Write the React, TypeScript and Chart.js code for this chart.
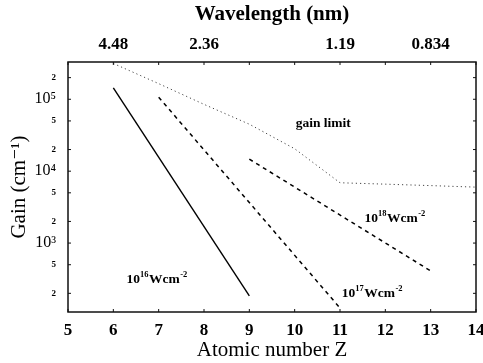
import React, { useEffect, useRef } from 'react';
import { Chart, registerables } from 'chart.js';

Chart.register(...registerables);

// ---- data ----
const z16 = [6, 9];
const gain16 = [1.44e5, 185];
const z17 = [7, 11];
const gain17 = [1.07e5, 125];
const z18 = [9, 13];
const gain18 = [1.47e4, 410];
const zLimit = [6, 7, 8, 9, 10, 11, 12, 13, 14];
const gainLimit = [3.15e5, 1.65e5, 8.5e4, 4.5e4, 2.05e4, 6.9e3, 6.6e3, 6.3e3, 6.0e3];

const xTicks = [5, 6, 7, 8, 9, 10, 11, 12, 13, 14];
const topTickZ = [6, 8, 11, 13];
const topTickLabels = ['4.48', '2.36', '1.19', '0.834'];
const yTicks = [200, 500, 1000, 2000, 5000, 10000, 20000, 50000, 100000, 200000];
const yMajor = [1000, 10000, 100000];
const supDigits: Record<number, string> = { 3: '\u00B3', 4: '\u2074', 5: '\u2075' };

// annotation anchors in data coordinates
const noteZ = [10.63, 12.21, 11.71, 6.96];
const noteGain = [4.7e4, 2.3e3, 210, 325];
const noteBase = ['gain limit', '10', '10', '10'];
const noteExp = ['', '18', '17', '16'];

const SERIF = '"Liberation Serif", "DejaVu Serif", serif';

const pts = (xs: number[], ys: number[]) => xs.map((x, i) => ({ x, y: ys[i] }));

const framePlugin = {
  id: 'frameAndNotes',
  afterDraw(chart: any) {
    const { ctx, chartArea: a, scales } = chart;
    const xs = scales.x;
    const ys = scales.y;
    ctx.save();
    ctx.strokeStyle = '#111';
    ctx.lineWidth = 1.5;
    ctx.strokeRect(a.left, a.top, a.right - a.left, a.bottom - a.top);
    ctx.lineWidth = 1;
    const tl = 3;
    xTicks.forEach((v) => {
      const px = xs.getPixelForValue(v);
      ctx.beginPath();
      ctx.moveTo(px, a.bottom);
      ctx.lineTo(px, a.bottom - tl);
      ctx.moveTo(px, a.top);
      ctx.lineTo(px, a.top + tl);
      ctx.stroke();
    });
    yTicks.forEach((v) => {
      const py = ys.getPixelForValue(v);
      ctx.beginPath();
      ctx.moveTo(a.left, py);
      ctx.lineTo(a.left + tl, py);
      ctx.moveTo(a.right, py);
      ctx.lineTo(a.right - tl, py);
      ctx.stroke();
    });

    // annotations
    ctx.fillStyle = '#000';
    ctx.textBaseline = 'alphabetic';
    noteBase.forEach((base, i) => {
      const cx = xs.getPixelForValue(noteZ[i]);
      const cy = ys.getPixelForValue(noteGain[i]);
      if (!noteExp[i]) {
        ctx.font = `bold 13.5px ${SERIF}`;
        ctx.textAlign = 'center';
        ctx.fillText(base, cx, cy + 4);
        return;
      }
      const bigF = `bold 13.5px ${SERIF}`;
      const smallF = `bold 8.5px ${SERIF}`;
      ctx.font = bigF;
      const w1 = ctx.measureText(base).width;
      const w3 = ctx.measureText('Wcm').width;
      ctx.font = smallF;
      const w2 = ctx.measureText(noteExp[i]).width;
      const w4 = ctx.measureText('-2').width;
      const total = w1 + w2 + w3 + w4 + 1;
      let x = cx - total / 2;
      const base_y = cy + 5;
      ctx.textAlign = 'left';
      ctx.font = bigF;
      ctx.fillText(base, x, base_y);
      x += w1;
      ctx.font = smallF;
      ctx.fillText(noteExp[i], x, base_y - 6);
      x += w2 + 0.5;
      ctx.font = bigF;
      ctx.fillText('Wcm', x, base_y);
      x += w3 + 0.5;
      ctx.font = smallF;
      ctx.fillText('-2', x, base_y - 6);
    });
    ctx.restore();
  },
};

export default function App() {
  const ref = useRef<HTMLCanvasElement>(null);
  useEffect(() => {
    document.body.style.margin = '0';
    const canvas = ref.current!;
    const chart = new Chart(canvas, {
      type: 'line',
      data: {
        datasets: [
          {
            label: '1e16',
            data: pts(z16, gain16),
            borderColor: '#000',
            borderWidth: 1.4,
            pointRadius: 0,
          },
          {
            label: '1e17',
            data: pts(z17, gain17),
            borderColor: '#000',
            borderWidth: 1.5,
            borderDash: [4, 4],
            pointRadius: 0,
          },
          {
            label: '1e18',
            data: pts(z18, gain18),
            borderColor: '#000',
            borderWidth: 1.5,
            borderDash: [4, 4],
            pointRadius: 0,
          },
          {
            label: 'gain limit',
            data: pts(zLimit, gainLimit),
            borderColor: '#444',
            borderWidth: 1,
            borderDash: [1.2, 3],
            pointRadius: 0,
          },
        ],
      },
      options: {
        animation: false,
        responsive: false,
        devicePixelRatio: 1,
        layout: { padding: { left: 0, right: 7, top: 0, bottom: 0 } },
        plugins: { legend: { display: false }, tooltip: { enabled: false } },
        scales: {
          x: {
            type: 'linear',
            position: 'bottom',
            min: 5,
            max: 14,
            afterBuildTicks: (s: any) => {
              s.ticks = xTicks.map((v) => ({ value: v }));
            },
            afterFit: (s: any) => {
              s.height = 51;
              s.paddingLeft = 0;
              s.paddingRight = 0;
            },
            grid: { display: false, drawTicks: false },
            border: { display: false },
            ticks: {
              color: '#000',
              padding: 8,
              autoSkip: false,
              maxRotation: 0,
              font: { family: SERIF, size: 17, weight: 'bold' },
            },
            title: {
              display: true,
              text: 'Atomic number Z',
              color: '#000',
              font: { family: SERIF, size: 21 },
              padding: { top: 0, bottom: 0 },
            },
          },
          x2: {
            type: 'linear',
            position: 'top',
            min: 5,
            max: 14,
            afterBuildTicks: (s: any) => {
              s.ticks = topTickZ.map((v) => ({ value: v }));
            },
            afterFit: (s: any) => {
              s.height = 62;
              s.paddingLeft = 0;
              s.paddingRight = 0;
            },
            grid: { display: false, drawTicks: false },
            border: { display: false },
            ticks: {
              color: '#000',
              padding: 7,
              autoSkip: false,
              maxRotation: 0,
              font: { family: SERIF, size: 17, weight: 'bold' },
              callback: (_v: any, i: number) => topTickLabels[i],
            },
            title: {
              display: true,
              text: 'Wavelength (nm)',
              color: '#000',
              font: { family: SERIF, size: 21, weight: 'bold' },
              padding: { top: 2, bottom: 0 },
            },
          },
          y: {
            type: 'logarithmic',
            min: 110,
            max: 3.3e5,
            afterBuildTicks: (s: any) => {
              s.ticks = yTicks.map((v) => ({ value: v }));
            },
            afterFit: (s: any) => {
              s.width = 68;
              s.paddingTop = 0;
              s.paddingBottom = 0;
            },
            grid: { display: false, drawTicks: false },
            border: { display: false },
            ticks: {
              color: '#000',
              padding: 12,
              autoSkip: false,
              callback: (v: any) => {
                const n = Number(v);
                if (yMajor.includes(n)) return '10' + supDigits[Math.round(Math.log10(n))];
                return String(Math.round(n / Math.pow(10, Math.floor(Math.log10(n) + 1e-9))));
              },
              font: (c: any) => {
                const v = c.tick ? c.tick.value : 0;
                return yMajor.includes(v)
                  ? { family: SERIF, size: 16 }
                  : { family: SERIF, size: 9, weight: 'bold' };
              },
            },
            title: {
              display: true,
              text: 'Gain (cm\u207B\u00B9)',
              color: '#000',
              font: { family: SERIF, size: 21 },
              padding: { top: 7, bottom: 0 },
            },
          },
        },
      } as any,
      plugins: [framePlugin],
    });
    return () => chart.destroy();
  }, []);
  return (
    <div style={{ position: 'fixed', left: 0, top: 0, width: 483, height: 363, background: '#fff' }}>
      <canvas ref={ref} width={483} height={363} />
    </div>
  );
}
